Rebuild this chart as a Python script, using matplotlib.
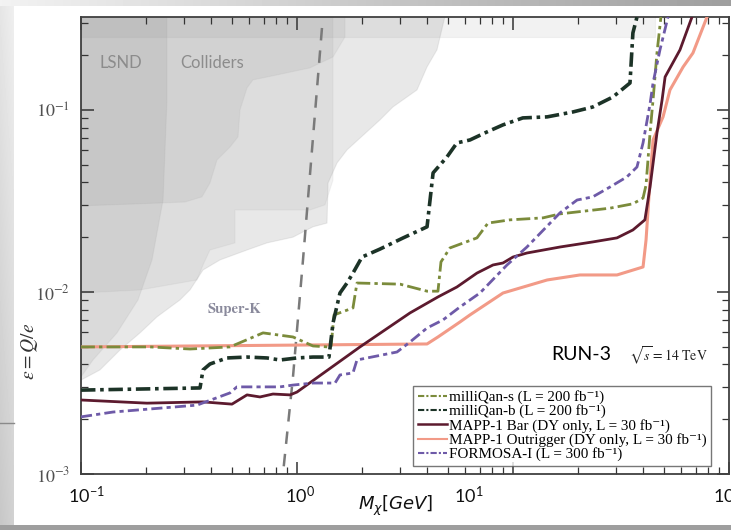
import numpy as np
import matplotlib
matplotlib.use("Agg")
import matplotlib.pyplot as plt
from matplotlib.lines import Line2D

plt.rcParams['mathtext.fontset'] = 'stix'

# ---------------- data ----------------
mqs_x = [0.1, 0.2086, 0.3196, 0.4897, 0.6962, 0.958, 1.186, 1.392, 1.437, 1.484, 1.816, 1.895,
         2.998, 4.0, 4.494, 4.64, 5.109, 6.81, 7.66, 9.68, 13.76, 16.5, 28.1, 35.9, 40.0, 41.3,
         43.1, 44.5, 46.4, 48.4]
mqs_y = [0.00499, 0.00499, 0.00486, 0.00499, 0.00596, 0.00566, 0.00505, 0.00499, 0.00499, 0.00748,
         0.00817, 0.0112, 0.01104, 0.0101, 0.0101, 0.01462, 0.01746, 0.01982, 0.0239, 0.0249,
         0.02553, 0.02685, 0.02886, 0.0305, 0.0328, 0.0387, 0.0748, 0.1135, 0.2056, 0.324]

mqb_x = [0.1, 0.3556, 0.3672, 0.3954, 0.4742, 0.5869, 0.7263, 0.834, 1.0, 1.186, 1.406, 1.468,
         1.581, 1.704, 1.816, 2.0, 2.421, 3.096, 4.0, 4.13, 4.266, 4.948, 5.50, 6.32, 7.58, 8.99,
         11.1, 14.4, 18.96, 23.4, 29.0, 34.8, 35.9, 37.5]
mqb_y = [0.00289, 0.00297, 0.00373, 0.00402, 0.00434, 0.00439, 0.00434, 0.00423, 0.00434, 0.00439,
         0.00439, 0.00676, 0.00987, 0.0112, 0.0127, 0.01556, 0.0172, 0.0198, 0.0228, 0.032, 0.0451,
         0.0552, 0.0659, 0.0684, 0.0757, 0.0828, 0.0904, 0.0916, 0.0975, 0.1038, 0.1178, 0.1406,
         0.2649, 0.324]

bar_x = [0.1, 0.2021, 0.3672, 0.5, 0.5869, 0.674, 0.774, 0.929, 1.0, 1.957, 3.335, 4.494, 5.50,
         6.81, 8.08, 8.99, 10.0, 11.6, 16.5, 23.4, 30.3, 35.9, 40.8, 43.1, 46.4, 49.0, 50.6, 59.3, 67.4]
bar_y = [0.00255, 0.00245, 0.00249, 0.00242, 0.00272, 0.00265, 0.00275, 0.00272, 0.00282, 0.00499,
         0.00767, 0.00939, 0.01065, 0.0127, 0.01407, 0.01443, 0.01556, 0.01637, 0.01766, 0.01883,
         0.01982, 0.02191, 0.0249, 0.03774, 0.0748, 0.1135, 0.1518, 0.2138, 0.324]

out_x = [0.1, 4.0, 4.494, 5.68, 6.32, 8.99, 14.4, 20.4, 30.3, 40.0, 41.3, 43.1, 44.5, 49.5, 53.3,
         61.3, 68.1, 79.1]
out_y = [0.00499, 0.00518, 0.00566, 0.00684, 0.00748, 0.00987, 0.01164, 0.0124, 0.0124, 0.01372,
         0.0193, 0.0412, 0.0684, 0.0916, 0.1288, 0.1722, 0.2056, 0.324]

for_x = [0.1, 0.1406, 0.3443, 0.4897, 0.5272, 0.834, 0.958, 1.186, 1.5, 1.581, 1.816, 1.895, 2.904,
         3.335, 4.0, 4.74, 5.68, 7.03, 9.38, 11.6, 16.5, 19.8, 23.4, 28.1, 33.7, 37.5, 40.0, 43.1,
         44.5, 47.9, 52.2]
for_y = [0.00206, 0.00219, 0.00239, 0.00279, 0.00301, 0.00301, 0.00308, 0.00316, 0.00316, 0.0035,
         0.00359, 0.00423, 0.00468, 0.00531, 0.00634, 0.00702, 0.00827, 0.00987, 0.01407, 0.01766,
         0.0272, 0.032, 0.0333, 0.0377, 0.0429, 0.0486, 0.0659, 0.1079, 0.1406, 0.2138, 0.324]

vdash_x = [1.305, 1.066, 0.958, 0.861]
vdash_y = [0.282, 0.0150, 0.00341, 0.001]

# excluded regions
env_x = [0.1, 5.273, 4.446, 3.999, 3.594, 2.78, 2.421, 1.704, 1.532, 1.392, 1.377, 1.186, 0.958,
         0.7263, 0.5869, 0.4403, 0.3672, 0.3196, 0.2873, 0.2249, 0.1876, 0.1516, 0.1224, 0.1]
env_y = [0.5, 0.5, 0.2138, 0.1722, 0.1288, 0.1038, 0.0881, 0.0603, 0.0511, 0.0397, 0.0239, 0.0228,
         0.02, 0.0186, 0.017, 0.015, 0.0132, 0.01026, 0.00904, 0.0073, 0.00596, 0.0048, 0.00373, 0.00328]

mid_x = [0.1, 1.468, 1.468, 1.348, 1.148, 0.5164, 0.5164, 0.3954, 0.3672, 0.3443, 0.1876, 0.1]
mid_y = [0.5, 0.5, 0.0412, 0.0301, 0.0282, 0.0282, 0.0186, 0.017, 0.01407, 0.01164, 0.01026, 0.00987]

col_x = [0.1, 1.668, 1.668, 1.468, 1.148, 0.8077, 0.6252, 0.5869, 0.5445, 0.5333, 0.4897, 0.4262,
         0.3954, 0.3631, 0.303, 0.1876, 0.1]
col_y = [0.5, 0.5, 0.2518, 0.1955, 0.1702, 0.1557, 0.1462, 0.1321, 0.1, 0.0711, 0.0626, 0.0531,
         0.0397, 0.0333, 0.0312, 0.0305, 0.0297]

lsnd_x = [0.1, 0.25, 0.25, 0.2398, 0.2132, 0.1836, 0.1468, 0.1136, 0.1]
lsnd_y = [0.5, 0.5, 0.1135, 0.032, 0.015, 0.00904, 0.00596, 0.00423, 0.00341]

band_x = [0.1, 45.4, 45.4, 0.1]
band_y = [0.2518, 0.2518, 0.5, 0.5]

labels = ['milliQan-s (L = 200 fb\u207b\u00b9)',
          'milliQan-b (L = 200 fb\u207b\u00b9)',
          'MAPP-1 Bar (DY only, L = 30 fb\u207b\u00b9)',
          'MAPP-1 Outrigger (DY only, L = 30 fb\u207b\u00b9)',
          'FORMOSA-I (L = 300 fb\u207b\u00b9)']

xtick_labels = [r'$\mathregular{10^{-1}}$', r'$\mathregular{10^{0}}$',
                r'$\mathregular{10^{1}}$', r'$\mathregular{10^{2}}$']

# ---------------- figure ----------------
W, H = 731, 530
fig = plt.figure(figsize=(W / 100, H / 100), dpi=100)

# slide-like background
bg = fig.add_axes([0, 0, 1, 1], zorder=-10)
img = np.ones((H, W))
xx = np.arange(W)[None, :] / W
yy = np.arange(H)[:, None] / H
left = (np.arange(W)[None, :] < 14) & np.ones((H, 1), bool)
img = np.where(left, 0.90 - 0.12 * yy + 0.04 * (np.arange(W)[None, :] / 14.0), img)
top = (np.arange(H)[:, None] < 6) & np.ones((1, W), bool)
img = np.where(top, 0.95 - 0.33 * xx, img)
bot = (np.arange(H)[:, None] > 524) & np.ones((1, W), bool)
img = np.where(bot, 0.62, img)
bg.imshow(img, cmap='gray', vmin=0, vmax=1, extent=[0, 1, 0, 1], aspect='auto',
          interpolation='bilinear')
bg.plot([0, 14 / W], [1 - 423 / H, 1 - 423 / H], color='#8a8a8a', lw=1)
bg.set_xlim(0, 1)
bg.set_ylim(0, 1)
bg.axis('off')

ax = fig.add_axes([81 / W, 1 - 474 / H, 648 / W, 457 / H])
ax.set_xscale('log')
ax.set_yscale('log')
ax.set_xlim(0.1, 100)
ax.set_ylim(1e-3, 0.324)

shade = dict(facecolor='#808080', edgecolor='#9a9a9a', linewidth=0.8)
ax.fill(env_x, env_y, alpha=0.18, zorder=1, **shade)
ax.fill(mid_x, mid_y, alpha=0.10, zorder=1, **shade)
ax.fill(col_x, col_y, alpha=0.11, zorder=1, **shade)
ax.fill(lsnd_x, lsnd_y, alpha=0.13, zorder=1, **shade)
ax.fill(band_x, band_y, alpha=0.10, zorder=1, **shade)

ax.plot(vdash_x, vdash_y, color='#7a7a7a', lw=1.8, dashes=(5, 4), zorder=2)

c_mqs, c_mqb, c_bar, c_out, c_for = '#7b8b3b', '#1c3327', '#5c1a2e', '#f29a87', '#6e5aa8'
ax.plot(out_x, out_y, color=c_out, lw=2.2, zorder=3)
ax.plot(mqs_x, mqs_y, color=c_mqs, lw=2.0, dashes=(5, 1.5, 1.2, 1.5), zorder=4)
ax.plot(mqb_x, mqb_y, color=c_mqb, lw=2.6, dashes=(4, 1.3, 1, 1.3), zorder=4)
ax.plot(bar_x, bar_y, color=c_bar, lw=2.0, zorder=5)
ax.plot(for_x, for_y, color=c_for, lw=2.0, dashes=(4, 1.5, 1.5, 1.5), zorder=5)

# ticks
ax.tick_params(which='both', direction='in', top=True, right=True, color='#333333')
ax.tick_params(which='major', length=9, width=1.1)
ax.tick_params(which='minor', length=5, width=0.9)
ax.tick_params(axis='y', which='major', pad=8, labelsize=13, labelcolor='#505050')
ax.set_xticks([0.1, 1, 10, 100])
ax.set_xticklabels([])
ax.set_yticks([1e-3, 1e-2, 1e-1])
ax.set_yticklabels([r'$10^{-3}$', r'$10^{-2}$', r'$10^{-1}$'])
for s in ax.spines.values():
    s.set_color('#404040')
    s.set_linewidth(1.3)

# legend
handles = [Line2D([], [], color=c_mqs, lw=1.5, dashes=(3, 1, 1, 1)),
           Line2D([], [], color=c_mqb, lw=1.5, dashes=(3, 1, 1, 1)),
           Line2D([], [], color=c_bar, lw=1.8),
           Line2D([], [], color=c_out, lw=1.5),
           Line2D([], [], color=c_for, lw=1.5, dashes=(3, 1, 1, 1))]
leg = ax.legend(handles, labels, loc='lower left', bbox_to_anchor=(0.513, 0.018),
                prop={'family': ['Liberation Serif', 'DejaVu Serif'], 'size': 10.9}, frameon=True,
                fancybox=False, edgecolor='#555555', handlelength=1.9, handletextpad=0.15,
                labelspacing=0.02, borderpad=0.3, borderaxespad=0.0)
leg.get_frame().set_linewidth(1.0)
leg.set_zorder(10)

# annotations
sans = ['Lato', 'DejaVu Sans']
fig.text(121 / W, 1 - 63 / H, 'LSND', family=sans, fontsize=12, color='#8c8c8c',
         ha='center', va='center')
fig.text(212 / W, 1 - 63 / H, 'Colliders', family=sans, fontsize=12, color='#8c8c8c',
         ha='center', va='center')
fig.text(234 / W, 1 - 309 / H, 'Super-K', family='STIXGeneral', fontweight='bold', fontsize=10.5,
         color='#8a8a9c', ha='center', va='center')
fig.text(581 / W, 1 - 355 / H, 'RUN-3', family=sans, fontsize=14, color='#000000',
         ha='center', va='center')
fig.text(668 / W, 1 - 356 / H, r'$\sqrt{s} = 14\ \mathrm{TeV}$', fontsize=10, color='#222222',
         ha='center', va='center')
fig.text(30 / W, 1 - 351 / H, r'$\epsilon = Q/e$', fontsize=14, color='#333333', rotation=90,
         ha='center', va='center')
fig.text(396 / W, 1 - 506 / H, r'$M_{\chi}[GeV]$', fontsize=13, color='#111111',
         ha='center', va='center', math_fontfamily='dejavusans')

for xp, lab, ha in zip([86, 300, 469, 713], xtick_labels, ['center', 'center', 'center', 'left']):
    fig.text(xp / W, 1 - 496 / H, lab, family=sans, fontsize=13, color='#111111',
             ha=ha, va='center')

fig.savefig('out.png', dpi=100)
